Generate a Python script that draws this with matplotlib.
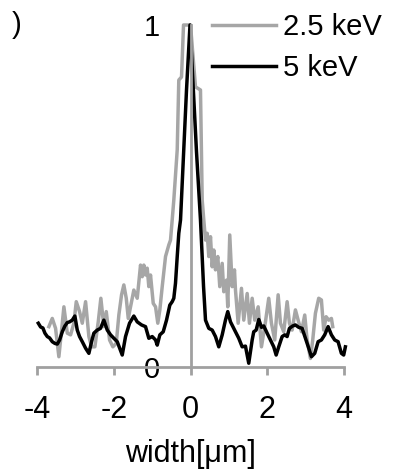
import numpy as np
import matplotlib.pyplot as plt

plt.rcParams['font.family'] = ['Liberation Sans', 'DejaVu Sans']

# line profiles (width in um, normalised intensity)
x_5kev = [-3.966, -3.906, -3.846, -3.794, -3.732, -3.672, -3.602, -3.534, -3.471, -3.411,
          -3.341, -3.273, -3.211, -3.151, -3.081, -3.013, -2.951, -2.891, -2.820, -2.734,
          -2.648, -2.578, -2.518, -2.430, -2.344, -2.258, -2.169, -2.083, -1.997, -1.909,
          -1.779, -1.693, -1.589, -1.477, -1.388, -1.276, -1.172, -1.086, -0.997, -0.911,
          -0.867, -0.799, -0.711, -0.625, -0.539, -0.477, -0.435, -0.391, -0.346, -0.305,
          -0.260, -0.182, -0.104, -0.013, 0.065, 0.156, 0.260, 0.300, 0.340, 0.391,
          0.477, 0.565, 0.651, 0.737, 0.826, 0.911, 0.971, 1.042, 1.172, 1.258,
          1.346, 1.432, 1.518, 1.607, 1.648, 1.711, 1.779, 1.849, 1.909, 1.997,
          2.083, 2.169, 2.232, 2.299, 2.388, 2.456, 2.518, 2.578, 2.664, 2.734,
          2.820, 2.909, 2.995, 3.081, 3.151, 3.237, 3.326, 3.411, 3.497, 3.586,
          3.672, 3.758, 3.846, 3.932, 3.992, 4.036]
y_5kev = [0.128, 0.117, 0.114, 0.099, 0.089, 0.085, 0.074, 0.069, 0.067, 0.079,
          0.103, 0.120, 0.130, 0.132, 0.137, 0.149, 0.108, 0.089, 0.074, 0.055,
          0.040, 0.074, 0.099, 0.108, 0.113, 0.137, 0.108, 0.094, 0.084, 0.074,
          0.035, 0.089, 0.128, 0.149, 0.132, 0.123, 0.118, 0.084, 0.089, 0.079,
          0.064, 0.094, 0.103, 0.137, 0.181, 0.191, 0.201, 0.245, 0.323, 0.391,
          0.430, 0.62, 0.81, 1.0, 0.83, 0.63, 0.43, 0.333, 0.235, 0.137,
          0.113, 0.108, 0.089, 0.059, 0.094, 0.137, 0.162, 0.132, 0.103, 0.084,
          0.059, 0.061, 0.011, 0.079, 0.103, 0.108, 0.139, 0.116, 0.120, 0.099,
          0.079, 0.059, 0.035, 0.059, 0.089, 0.094, 0.089, 0.113, 0.120, 0.123,
          0.116, 0.113, 0.084, 0.055, 0.030, 0.040, 0.074, 0.079, 0.094, 0.118,
          0.094, 0.079, 0.074, 0.040, 0.035, 0.059]

x_25kev = [-3.690, -3.602, -3.516, -3.430, -3.359, -3.299, -3.211, -3.125, -3.039, -2.977,
           -2.891, -2.820, -2.734, -2.648, -2.578, -2.492, -2.404, -2.336, -2.258, -2.195,
           -2.109, -2.023, -1.935, -1.867, -1.797, -1.737, -1.674, -1.622, -1.536, -1.477,
           -1.388, -1.302, -1.258, -1.216, -1.172, -1.128, -1.086, -1.042, -0.971, -0.911,
           -0.852, -0.799, -0.737, -0.651, -0.565, -0.521, -0.477, -0.435, -0.346, -0.305,
           -0.234, -0.182, 0.0, 0.130, 0.260, 0.305, 0.346, 0.391, 0.435, 0.477,
           0.521, 0.565, 0.607, 0.651, 0.711, 0.763, 0.826, 0.867, 0.938, 0.971,
           1.023, 1.086, 1.146, 1.172, 1.242, 1.328, 1.388, 1.477, 1.536, 1.607,
           1.674, 1.763, 1.849, 1.953, 2.039, 2.109, 2.195, 2.284, 2.344, 2.430,
           2.518, 2.578, 2.648, 2.734, 2.805, 2.891, 2.977, 3.039, 3.125, 3.185,
           3.255, 3.341, 3.411, 3.471, 3.534, 3.602, 3.672, 3.706]
y_25kev = [0.118, 0.142, 0.113, 0.030, 0.108, 0.176, 0.099, 0.094, 0.128, 0.191,
           0.162, 0.128, 0.191, 0.089, 0.059, 0.059, 0.132, 0.201, 0.118, 0.162,
           0.079, 0.059, 0.069, 0.152, 0.211, 0.240, 0.201, 0.142, 0.191, 0.225,
           0.201, 0.298, 0.264, 0.298, 0.269, 0.289, 0.235, 0.269, 0.186, 0.176,
           0.128, 0.167, 0.235, 0.323, 0.357, 0.371, 0.430, 0.488, 0.635, 0.839,
           0.848, 1.0, 1.0, 0.819, 0.810, 0.488, 0.430, 0.371, 0.391, 0.323,
           0.381, 0.293, 0.342, 0.284, 0.323, 0.235, 0.303, 0.220, 0.254, 0.176,
           0.386, 0.235, 0.284, 0.225, 0.128, 0.230, 0.137, 0.215, 0.128, 0.201,
           0.137, 0.176, 0.059, 0.132, 0.201, 0.128, 0.079, 0.211, 0.128, 0.103,
           0.191, 0.128, 0.108, 0.167, 0.137, 0.103, 0.152, 0.079, 0.025, 0.079,
           0.157, 0.201, 0.196, 0.108, 0.147, 0.137, 0.142, 0.118]

xticks = [-4, -2, 0, 2, 4]
axis_grey = '#a0a0a0'

fig = plt.figure(figsize=(3.99, 4.70), dpi=100)
ax = fig.add_axes([37 / 399, 103 / 470, 307 / 399, 342 / 470])

ax.plot(x_25kev, y_25kev, color='#a6a6a6', lw=2.5, label='2.5 keV', clip_on=False)
ax.plot(x_5kev, y_5kev, color='black', lw=2.5, label='5 keV', clip_on=False)

ax.set_xlim(-4, 4)
ax.set_ylim(0, 1)
for s in ['top', 'right']:
    ax.spines[s].set_visible(False)
ax.spines['left'].set_position(('data', 0))
ax.spines['left'].set_color(axis_grey)
ax.spines['left'].set_linewidth(2)
ax.spines['bottom'].set_color(axis_grey)
ax.spines['bottom'].set_linewidth(2)

ax.set_xticks(xticks)
ax.set_xticklabels([str(t) for t in xticks])
ax.tick_params(axis='x', direction='out', length=6, width=2, color=axis_grey,
               labelsize=22, pad=14)
ax.set_yticks([0, 1])
ax.set_yticklabels(['0', '1'])
ax.tick_params(axis='y', length=0, labelsize=21, pad=22)
ax.set_xlabel('width[μm]', fontsize=22, labelpad=10)

ax.legend(loc='upper left', bbox_to_anchor=(212 / 399, 1 - 13 / 470),
          bbox_transform=fig.transFigure, frameon=False, fontsize=21,
          handlelength=2.2, handletextpad=0.25, labelspacing=0.45, borderpad=0,
          borderaxespad=0)

fig.text(12 / 399, 1 - 25 / 470, ')', fontsize=21, va='center')

fig.savefig('out.png', dpi=100)
